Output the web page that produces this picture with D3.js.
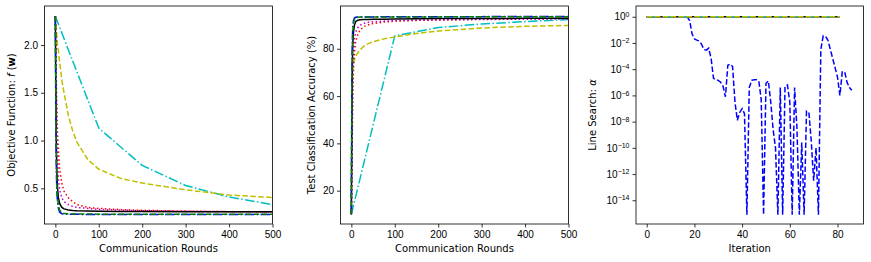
<!DOCTYPE html>
<html lang="en">
<head>
<meta charset="UTF-8">
<title>Objective, accuracy and line search</title>
<script src="https://cdnjs.cloudflare.com/ajax/libs/d3/7.8.5/d3.min.js"></script>
<style>
    body { margin: 0; background: #fff; }
    svg { font-family: "DejaVu Sans", sans-serif; }
    .tick text { font-size: 10px; fill: #000; }
    .tick line { stroke: #000; stroke-width: 0.8; }
    .axis-label { font-size: 10px; fill: #000; }
    .frame { fill: none; stroke: #000; stroke-width: 0.8; }
</style>
</head>
<body>
<div id="chart"></div>
<script>
// communication rounds sampled for most methods
const rounds = [0, 1, 2, 3, 4, 5, 7, 10, 15, 20, 30, 40, 50, 75, 100, 150, 200, 300, 400, 500];
// the cyan method only reports every 100 rounds
const cyanRounds = [0, 100, 200, 300, 400, 500];

// objective function f(w)
const objBlack   = [2.30, 1.60, 1.05, 0.75, 0.60, 0.50, 0.40, 0.34, 0.30, 0.285, 0.273, 0.268, 0.265, 0.262, 0.260, 0.258, 0.257, 0.256, 0.255, 0.255];
const objGreen   = [2.30, 1.40, 0.90, 0.60, 0.47, 0.40, 0.32, 0.27, 0.245, 0.236, 0.233, 0.232, 0.231, 0.231, 0.230, 0.230, 0.230, 0.229, 0.229, 0.229];
const objBlue    = [2.30, 1.30, 0.80, 0.55, 0.43, 0.36, 0.29, 0.25, 0.235, 0.231, 0.229, 0.228, 0.228, 0.227, 0.227, 0.227, 0.226, 0.226, 0.226, 0.226];
const objMagenta = [2.30, 1.90, 1.50, 1.25, 1.00, 0.85, 0.60, 0.48, 0.40, 0.36, 0.33, 0.31, 0.30, 0.29, 0.28, 0.272, 0.266, 0.260, 0.256, 0.253];
const objRed     = [2.30, 2.00, 1.70, 1.45, 1.25, 1.08, 0.90, 0.70, 0.55, 0.47, 0.40, 0.36, 0.33, 0.30, 0.29, 0.278, 0.270, 0.262, 0.256, 0.252];
const objYellow  = [2.30, 2.25, 2.20, 2.12, 2.06, 2.00, 1.94, 1.82, 1.63, 1.50, 1.26, 1.10, 0.98, 0.80, 0.70, 0.605, 0.555, 0.485, 0.430, 0.405];
const objCyan    = [2.30, 1.13, 0.74, 0.53, 0.41, 0.33];

// test classification accuracy (%)
const accBlack   = [10, 45, 70, 80, 85, 87, 90, 91.5, 92.1, 92.3, 92.4, 92.4, 92.5, 92.5, 92.6, 92.7, 92.8, 92.8, 92.9, 92.9];
const accGreen   = [10, 55, 78, 86, 89, 91, 92.5, 93.1, 93.3, 93.4, 93.4, 93.4, 93.5, 93.5, 93.5, 93.5, 93.5, 93.6, 93.6, 93.6];
const accBlue    = [10, 60, 80, 88, 90.5, 92, 93, 93.3, 93.4, 93.5, 93.5, 93.5, 93.5, 93.6, 93.6, 93.6, 93.6, 93.6, 93.7, 93.7];
const accMagenta = [10, 30, 50, 65, 75, 79, 84, 87, 89, 90, 90.8, 91.2, 91.4, 91.7, 91.9, 92.1, 92.2, 92.4, 92.5, 92.6];
const accRed     = [10, 22, 40, 55, 65, 72, 78, 83, 86, 88, 89.5, 90.2, 90.7, 91.3, 91.7, 92.0, 92.2, 92.5, 92.7, 92.8];
const accYellow  = [10, 52, 63, 69, 72, 74, 75.5, 77, 78.3, 79.5, 81.3, 82.3, 83, 84.2, 85, 86.5, 87.5, 88.8, 89.5, 89.9];
const accCyan    = [10, 85.5, 89, 90.5, 91.5, 92.4];

// line search step size, log10(alpha), per iteration
const iterations = d3.range(0, 87);
const alphaBlueLog10 = [
    0, 0, 0, 0, 0, 0, 0, 0, 0, 0,
    0, 0, 0, 0, 0, 0, 0, 0, -0.3, -1.3,
    -1.7, -1.78, -1.85, -2.1, -2.5, -2.55, -2.4, -3.2, -4.7, -4.8,
    -4.85, -5.0, -5.3, -6.1, -3.7, -3.6, -3.8, -6.5, -7.9, -7.3,
    -7.0, -7.4, -15.1, -5.4, -4.85, -4.8, -4.8, -4.9, -6.3, -15.1,
    -5.1, -4.9, -6.5, -8.6, -10.0, -15.1, -5.4, -15.1, -5.3, -5.2,
    -6.5, -15.1, -5.4, -8.5, -15.1, -9.6, -15.1, -7.2, -7.3, -9.5,
    -12.5, -10.0, -15.1, -2.5, -1.45, -1.5, -1.8, -2.5, -3.2, -3.9,
    -4.6, -6.0, -4.2, -4.2, -5.0, -5.4, -5.6
];
const constIterations = d3.range(0, 82);
const alphaConst = constIterations.map(() => 1);

const roundTicks = [0, 100, 200, 300, 400, 500];
const objTicks = [0.5, 1.0, 1.5, 2.0];
const accTicks = [20, 40, 60, 80];
const iterTicks = [0, 20, 40, 60, 80];
const alphaTickExps = [0, -2, -4, -6, -8, -10, -12, -14];

const colors = {k: "#000000", g: "#008000", b: "#0000ff", r: "#ff0000", m: "#bf00bf", y: "#bfbf00", c: "#00bfbf"};
const lw = 1.5;
const dashes = {
    solid: null,
    dashed: `${3.7 * lw},${1.6 * lw}`,
    dotted: `${1 * lw},${1.65 * lw}`,
    dashdot: `${6.4 * lw},${1.6 * lw},${1 * lw},${1.6 * lw}`
};

const svg = d3.select("#chart").append("svg")
    .attr("width", 871)
    .attr("height", 262);

function makePanel(id, box, xDomain, yScale, xTicks) {
    const x = d3.scaleLinear().domain(xDomain).range([box.left, box.right]);
    const g = svg.append("g");
    g.append("clipPath").attr("id", id)
        .append("rect")
        .attr("x", box.left).attr("y", box.top)
        .attr("width", box.right - box.left).attr("height", box.bottom - box.top);
    const plot = g.append("g").attr("clip-path", `url(#${id})`);

    g.append("g")
        .attr("transform", `translate(0,${box.bottom})`)
        .call(d3.axisBottom(x).tickValues(xTicks).tickSize(3.5).tickPadding(3))
        .call(a => a.select(".domain").remove());

    return {x, y: yScale, g, plot};
}

function drawLine(p, xs, ys, color, dash) {
    const line = d3.line()
        .x((d, i) => p.x(xs[i]))
        .y(d => p.y(d));
    p.plot.append("path")
        .datum(ys)
        .attr("fill", "none")
        .attr("stroke", color)
        .attr("stroke-width", lw)
        .attr("stroke-dasharray", dash)
        .attr("d", line);
}

function finishPanel(p, box) {
    p.g.append("rect").attr("class", "frame")
        .attr("x", box.left).attr("y", box.top)
        .attr("width", box.right - box.left).attr("height", box.bottom - box.top);
}

function yLabel(p, x, box, build) {
    const t = p.g.append("text")
        .attr("class", "axis-label")
        .attr("text-anchor", "middle")
        .attr("transform", `translate(${x},${(box.top + box.bottom) / 2}) rotate(-90)`);
    build(t);
}

function xLabel(p, box, txt) {
    p.g.append("text")
        .attr("class", "axis-label")
        .attr("text-anchor", "middle")
        .attr("x", (box.left + box.right) / 2)
        .attr("y", 252)
        .text(txt);
}

// ---- panel 1: objective function ----
const box1 = {left: 44.5, right: 272.5, top: 6, bottom: 224};
const y1 = d3.scaleLinear().domain([0.127, 2.408]).range([box1.bottom, box1.top]);
const p1 = makePanel("clip1", box1, [-25, 500], y1, roundTicks);
p1.g.append("g")
    .attr("transform", `translate(${box1.left},0)`)
    .call(d3.axisLeft(y1).tickValues(objTicks).tickFormat(d3.format(".1f")).tickSize(3.5).tickPadding(3))
    .call(a => a.select(".domain").remove());

drawLine(p1, cyanRounds, objCyan, colors.c, dashes.dashdot);
drawLine(p1, rounds, objYellow, colors.y, dashes.dashed);
drawLine(p1, rounds, objRed, colors.r, dashes.dotted);
drawLine(p1, rounds, objMagenta, colors.m, dashes.dotted);
drawLine(p1, rounds, objBlack, colors.k, dashes.solid);
drawLine(p1, rounds, objBlue, colors.b, dashes.dashdot);
drawLine(p1, rounds, objGreen, colors.g, dashes.dashed);
finishPanel(p1, box1);
xLabel(p1, box1, "Communication Rounds");
yLabel(p1, 15, box1, t => {
    t.append("tspan").text("Objective Function: ");
    t.append("tspan").attr("font-style", "italic").text("f");
    t.append("tspan").text(" (");
    t.append("tspan").attr("font-weight", "bold").text("w");
    t.append("tspan").text(")");
});

// ---- panel 2: test accuracy ----
const box2 = {left: 340.5, right: 568.5, top: 6, bottom: 224};
const y2 = d3.scaleLinear().domain([5.9, 98.1]).range([box2.bottom, box2.top]);
const p2 = makePanel("clip2", box2, [-25, 500], y2, roundTicks);
p2.g.append("g")
    .attr("transform", `translate(${box2.left},0)`)
    .call(d3.axisLeft(y2).tickValues(accTicks).tickSize(3.5).tickPadding(3))
    .call(a => a.select(".domain").remove());

drawLine(p2, cyanRounds, accCyan, colors.c, dashes.dashdot);
drawLine(p2, rounds, accYellow, colors.y, dashes.dashed);
drawLine(p2, rounds, accRed, colors.r, dashes.dotted);
drawLine(p2, rounds, accMagenta, colors.m, dashes.dotted);
drawLine(p2, rounds, accBlack, colors.k, dashes.solid);
drawLine(p2, rounds, accBlue, colors.b, dashes.dashdot);
drawLine(p2, rounds, accGreen, colors.g, dashes.dashed);
finishPanel(p2, box2);
xLabel(p2, box2, "Communication Rounds");
yLabel(p2, 315, box2, t => t.text("Test Classification Accuracy (%)"));

// ---- panel 3: line search ----
const box3 = {left: 636, right: 863.5, top: 6, bottom: 224};
const y3 = d3.scaleLog().domain([Math.pow(10, -15.81), Math.pow(10, 0.82)]).range([box3.bottom, box3.top]);
const p3 = makePanel("clip3", box3, [-4.5, 90.9], y3, iterTicks);
p3.g.append("g")
    .attr("transform", `translate(${box3.left},0)`)
    .call(d3.axisLeft(y3).tickValues(alphaTickExps.map(e => Math.pow(10, e))).tickFormat(() => "").tickSize(3.5).tickPadding(3))
    .call(a => a.select(".domain").remove())
    .call(a => a.selectAll(".tick text").each(function(d, i) {
        const t = d3.select(this);
        t.append("tspan").text("10");
        const e = alphaTickExps[i];
        t.append("tspan")
            .attr("font-size", "7px")
            .attr("dy", "-0.5em")
            .text(e < 0 ? "\u2212" + (-e) : String(e));
    }));

drawLine(p3, iterations, alphaBlueLog10.map(v => Math.pow(10, v)), colors.b, dashes.dashed);
drawLine(p3, constIterations, alphaConst, colors.k, dashes.solid);
drawLine(p3, constIterations, alphaConst, colors.g, dashes.dashed);
drawLine(p3, constIterations, alphaConst, colors.r, dashes.dotted);
drawLine(p3, constIterations, alphaConst, colors.m, dashes.dotted);
drawLine(p3, constIterations, alphaConst, colors.c, dashes.dashdot);
drawLine(p3, constIterations, alphaConst, colors.y, dashes.dashed);
finishPanel(p3, box3);
xLabel(p3, box3, "Iteration");
yLabel(p3, 596, box3, t => {
    t.append("tspan").text("Line Search: ");
    t.append("tspan").attr("font-style", "italic").text("\u03b1");
});
</script>
</body>
</html>
